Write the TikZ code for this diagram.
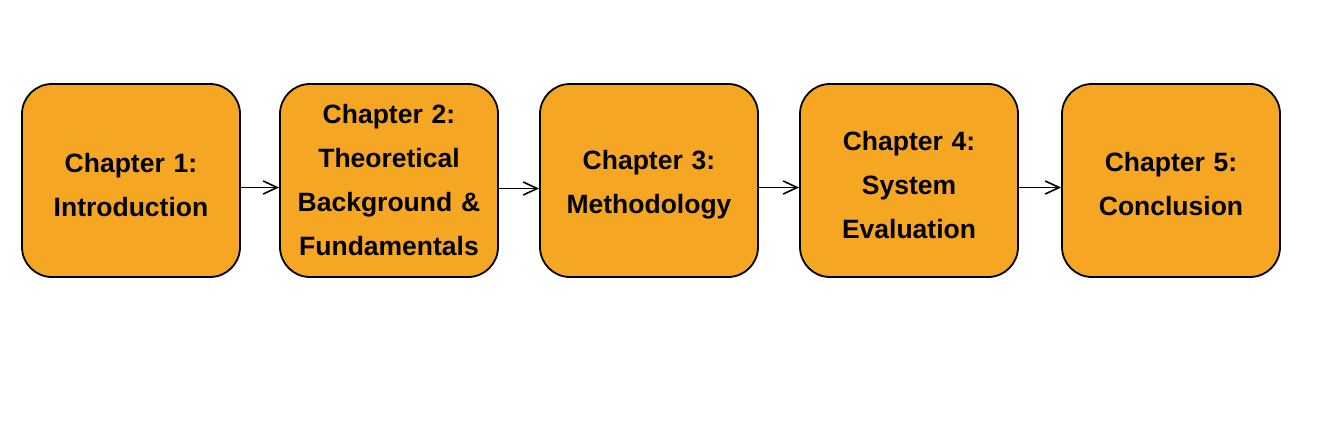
\documentclass[tikz,border=0pt]{standalone}
\usepackage{fontspec}
\setmainfont{Liberation Sans}
\usetikzlibrary{arrows.meta}
\definecolor{boxorange}{HTML}{F5A623}
\newcommand{\chaplines}[2]{\raisebox{#1}[\height][\depth]{\parbox{214pt}{\centering #2}}}
\begin{document}
\begin{tikzpicture}[x=1pt,y=-1pt,
  chapbox/.style={draw=black, line width=1.8pt, fill=boxorange, rounded corners=30pt,
    minimum width=218pt, minimum height=193pt, inner sep=0pt, align=center,
    font=\fontsize{26.5}{44}\selectfont\bfseries, text width=214pt},
  flow/.style={line width=1.6pt, -{Straight Barb[length=14pt,width=13pt,line width=1.6pt]}}]
\useasboundingbox (0,0) rectangle (1324,428);
\node[chapbox] (b1) at (131,180.5) {\chaplines{-5pt}{Chapter 1:\\Introduction}};
\node[chapbox] (b2) at (389,180.5) {\chaplines{0pt}{Chapter 2:\\Theoretical\\Background \&\\Fundamentals}};
\node[chapbox] (b3) at (649,180.5) {\chaplines{-4pt}{Chapter 3:\\Methodology}};
\node[chapbox] (b4) at (909,180.5) {\chaplines{-5pt}{Chapter 4:\\System\\Evaluation}};
\node[chapbox] (b5) at (1171,180.5) {\chaplines{-4pt}{Chapter 5:\\Conclusion}};
\draw[flow] ([yshift=-7pt]b1.east) -- ([yshift=-7pt]b2.west);
\draw[flow] ([yshift=-8pt]b2.east) -- ([yshift=-8pt]b3.west);
\draw[flow] ([yshift=-7pt]b3.east) -- ([yshift=-7pt]b4.west);
\draw[flow] ([yshift=-7pt]b4.east) -- ([yshift=-7pt]b5.west);
\end{tikzpicture}
\end{document}
